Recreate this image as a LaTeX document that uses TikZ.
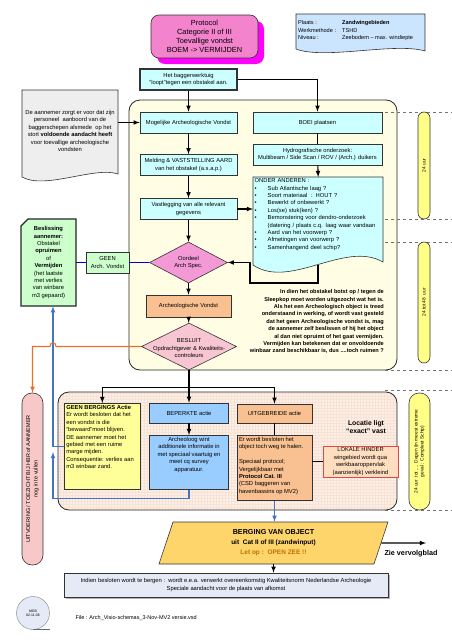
\documentclass[tikz,border=0pt]{standalone}
\usepackage{fontspec}
\setmainfont{Liberation Sans}
\usetikzlibrary{shapes.geometric,shadows}

\definecolor{cyanf}{HTML}{CCFFFF}
\definecolor{creamf}{HTML}{FFFDE3}
\definecolor{peachf}{HTML}{FDEFE6}
\definecolor{gridc}{HTML}{F7E2D6}
\definecolor{pinkf}{HTML}{F283CC}
\definecolor{magf}{HTML}{FF00FF}
\definecolor{pinkd}{HTML}{F39AD6}
\definecolor{pinkl}{HTML}{F8C6D2}
\definecolor{orf}{HTML}{F9C191}
\definecolor{bluef}{HTML}{99CCFF}
\definecolor{yellf}{HTML}{FFFF99}
\definecolor{yellp}{HTML}{FFFF88}
\definecolor{lokf}{HTML}{FFDEC0}
\definecolor{lokd}{HTML}{E04848}
\definecolor{greenf}{HTML}{CCFFCC}
\definecolor{bergf}{HTML}{FDD56B}
\definecolor{pinkp}{HTML}{F8C8C8}
\definecolor{lavf}{HTML}{E4EAF6}
\definecolor{infof}{HTML}{CCE5FF}
\definecolor{grayf}{HTML}{EEEEEE}
\definecolor{bluel}{HTML}{0000CC}
\definecolor{bluem}{HTML}{4472C4}
\definecolor{orl}{HTML}{E8702A}
\definecolor{letop}{HTML}{C07000}

\newcommand{\fa}{\fontsize{5.8}{7.4}\selectfont}
\newcommand{\fb}{\fontsize{7.4}{9}\selectfont}
\newcommand{\fc}{\fontsize{5.5}{7.4}\selectfont}
\newcommand{\fd}{\fontsize{4.8}{6}\selectfont}
\newcommand{\bul}{\makebox[13pt][l]{\textbullet}}

\begin{document}
\begin{tikzpicture}[x=1pt,y=-1pt,font=\fa,
	box/.style={draw=black!80,line width=.6pt,align=center,inner sep=1pt},
	cbox/.style={box,fill=cyanf,minimum width=97pt,minimum height=21pt},
	diam/.style={box,diamond,inner sep=0pt},
	arr/.style={->,>=latex,line width=1.1pt},
	ln/.style={line width=1.1pt},
	bluedk/.style={line width=1.1pt,color=bluel},
	bluearr/.style={->,>=latex,line width=1.1pt,color=bluem},
	orarr/.style={->,>=latex,line width=1.1pt,color=orl},
	ypill/.style={box,fill=yellp,rotate=90,font=\fd},
	region/.style={draw=black!85,line width=.8pt,rounded corners=11pt}]
	\useasboundingbox (0,0) rectangle (452,640);

	\draw[region,fill=creamf] (129,100) rectangle (397,370);
	\begin{scope}
		\clip[rounded corners=11pt] (58,392) rectangle (397,510);
		\fill[peachf] (58,392) rectangle (397,510);
		\draw[gridc,line width=.2pt,step=3pt] (58,392) grid (397,510);
	\end{scope}
	\draw[region] (58,392) rectangle (397,510);
	\foreach \yy in {112,219,242,370,390,510}
		\draw[dashed,black!55,line width=.5pt] (385,\yy) -- (452,\yy);

	\node[ypill,rounded corners=6pt,minimum width=107pt,minimum height=12pt] (p24) at (424,165.5) {24 uur};
	\node[ypill,rounded corners=6pt,minimum width=121pt,minimum height=12pt] (p48) at (424,302.5) {24 tot 48\ \ uur};
	\node[ypill,rounded corners=10pt,minimum width=117pt,minimum height=21pt] (pdag) at (419.5,451.5) {24 uur\ \ tot .... Dagen (in meest extreme\\geval : Compleet Schip)};

	\node[box,fill=pinkf,rounded corners=8pt,minimum width=107pt,minimum height=43pt,font=\fb,
		drop shadow={shadow xshift=6pt,shadow yshift=-6pt,fill=magf,opacity=1}] (protocol) at (204.5,36.5)
		{Protocol\\Categorie II of III\\Toevallige vondst\\BOEM -> VERMIJDEN};

	\draw[box,fill=infof] (296,14) -- (425,14) -- (425,51) .. controls (395,42) and (325,60) .. (296,49) -- cycle;
	\node[anchor=north west,inner sep=0pt,font=\fontsize{5.6}{7.4}\selectfont] (info) at (298,19.5)
		{\begin{tabular}{@{}p{44pt}@{}l@{}}Plaats : & \textbf{Zandwingebieden}\\Werkmethode : & TSHD\\Niveau : & Zeebodem – max. windiepte\end{tabular}};

	\draw[box,fill=grayf] (22,90) -- (118,90) -- (118,174) .. controls (95,166) and (45,190) .. (22,177) -- cycle;
	\node[align=center,minimum width=96pt] (aann) at (70,131) {De aannemer zorgt er voor dat zijn\\personeel\ \ aanboord van de\\baggerschepen alsmede\ \ op het\\stort \textbf{voldoende aandacht heeft}\\voor toevallige archeologische\\vondsten};

	\node[cbox,line width=1.3pt] (bagger) at (188.5,79.5) {Het baggerwerktuig\\“loopt”tegen een obstakel aan.};
	\node[cbox] (mog) at (188.5,122.5) {Mogelijke Archeologische Vondst};
	\node[cbox] (meld) at (188.5,165) {Melding \& VASTSTELLING AARD\\van het obstakel (a.s.a.p.)};
	\node[cbox] (vast) at (188.5,209) {Vastlegging van alle relevant\\gegevens};
	\node[diam,fill=pinkd,minimum width=78pt,minimum height=41pt,label={[align=center]center:Oordeel\\Arch Spec.}] (oordeel) at (188.5,262.5) {};
	\node[box,fill=orf,minimum width=85pt,minimum height=22pt] (archv) at (188.5,306) {Archeologische Vondst};
	\node[diam,fill=pinkl,minimum width=95pt,minimum height=47pt,label={[align=center,yshift=-1.5pt]center:BESLUIT\\Opdrachtgever \& Kwaliteits-\\controleurs}] (besluit) at (189,346.5) {};

	\node[cbox,minimum width=129pt] (boei) at (317.5,122.5) {BOEI plaatsen};
	\node[cbox,minimum width=129pt] (hydro) at (317.5,154.5) {Hydrografische onderzoek:\\Multibeam / Side Scan / ROV / (Arch.) duikers};
	\draw[box,fill=cyanf] (253,177) -- (383,177) -- (383,262) .. controls (345,240) and (290,290) .. (253,265) -- cycle;
	\node[anchor=north west,align=left,text width=127pt,inner sep=1.5pt] (onder) at (253,177)
		{ONDER ANDEREN :\\\bul Sub Atlantische laag ?\\\bul Soort materiaal\ \ : HOUT ?\\\bul Bewerkt of onbewerkt ?\\\bul Los(se) stuk(ken) ?\\\bul Bemonstering voor dendro-onderzoek\\\hspace*{13pt}(datering / plaats c.q. laag waar vandaan\\\bul Aard van het voorwerp ?\\\bul Afmetingen van voorwerp ?\\\bul Samenhangend deel schip?};
	\coordinate (onderbot) at (318,264.6);

	\node[anchor=north east,align=right,inner sep=0pt,font={\bfseries\fontsize{5.6}{7.4}\selectfont}] (uitleg) at (384,289.5)
		{In dien het obstakel botst op / tegen de\\Sleepkop moet worden uitgezocht wat het is.\\Als het een Archeologisch object is treed\\onderstaand in werking, of wordt vast gesteld\\dat het geen Archeologische vondst is, mag\\de aannemer zelf beslissen of hij het object\\al dan niet opruimt of het gaat vermijden.\\Vermijden kan betekenen dat er onvoldoende\\winbaar zand beschikbaar is, dus ....toch ruimen ?};

	\draw[line width=1.3pt,draw=black!85,fill=greenf] (21,226) -- (28,219) -- (76,219) -- (76,306) -- (21,306) -- cycle;
	\node[align=center,minimum width=55pt,minimum height=87pt] (besl) at (48.5,262.5) {\textbf{Beslissing}\\\textbf{aannemer:}\\Obstakel\\\textbf{opruimen}\\of\\\textbf{Vermijden}\\(het laatste\\met verlies\\van winbare\\m3 gepaard)};
	\node[box,fill=greenf,minimum width=43pt,minimum height=21pt] (geen) at (107.5,262.5) {GEEN\\Arch. Vondst};

	\foreach \a/\b in {bagger/mog,mog/meld,meld/vast,vast/oordeel,oordeel/archv,archv/besluit}
		\draw[arr] (\a) -- (\b);
	\draw[arr] (bagger.east) -| (boei.north);
	\draw[ln] (boei) -- (hydro);
	\draw[arr] (hydro) -- (onder.north);
	\draw[arr] (aann.east |- mog.west) -- (mog.west);
	\draw[arr] (vast.east) -- (vast.east -| onder.west);
	\draw[arr] (onderbot) |- (250,283) |- (oordeel.east);
	\draw[bluedk] (oordeel.west) -- (geen.east);
	\draw[bluedk] (geen.west) -- (besl.east);

	\node[box,fill=yellf,anchor=north west,inner sep=2pt] (gba) at (64,403)
		{\parbox[t][82pt][t]{72pt}{\raggedright\textbf{GEEN BERGINGS Actie}\\Er wordt besloten dat het\\een vondst is die\\“bewaard”moet blijven.\\DE aannemer moet het\\gebied met een ruime\\marge mijden.\\Consequentie: verlies aan\\m3 winbaar zand.}};
	\node[box,fill=bluef,minimum width=79pt,minimum height=20pt] (bep) at (189,413) {BEPERKTE actie};
	\node[box,fill=bluef,anchor=north,inner sep=2pt] (arch) at (189,435)
		{\parbox[t][50pt][t]{75pt}{\centering Archeoloog wint\\additionele informatie in\\met speciaal vaartuig en\\meet cq survey\\apparatuur.}};
	\node[box,fill=orf,minimum width=75pt,minimum height=19pt] (uitg) at (274.5,413.5) {UITGEBREIDE actie};
	\node[box,fill=orf,anchor=north,inner sep=2pt] (det) at (274.5,435)
		{\parbox[t][61pt][t]{71pt}{\raggedright Er wordt besloten het\\object toch weg te halen.\\[7.4pt]Speciaal protocol;\\Vergelijkbaar met\\\textbf{Protocol Cat. III}\\(CSD baggeren van\\havenbassins op MV2)}};
	\node[box,fill=lokf,draw=lokd,minimum width=75pt,minimum height=31pt] (lok) at (360.5,461.5) {LOKALE HINDER\\wingebied wordt qua\\werkbaaroppervlak\\(aanzienlijk) verkleind};
	\node[align=center,font={\bfseries\fontsize{6.8}{8}\selectfont}] (locatie) at (366,427) {Locatie ligt\\“exact” vast};

	\node[box,fill=pinkp,rotate=90,rounded corners=10pt,minimum width=172pt,minimum height=21pt,font=\fc] (pill) at (32.5,479)
		{UITVOERING / TOEZICHT BIJ HBR of AANNEMER\\nog in te vullen};

	\draw[ln] (besluit.south) -- ++(0,17) coordinate (split);
	\draw[arr] (split) -| (gba.north);
	\draw[arr] (split) -- (bep.north);
	\draw[arr] (split) -| (uitg.north);
	\draw[arr] (bep) -- (arch);
	\draw[ln] (uitg) -- (det);
	\draw[ln] (det.east |- lok.west) -- (lok.west);
	\coordinate (merge) at (53,452);
	\draw[bluearr] (gba.west) -| ([xshift=4.5pt]besl.south);
	\draw[bluearr] (arch.south) -- ++(0,9) -| (merge);
	\draw[orarr] (besluit.west) -- (56,346.5) .. controls (56,341.5) and (50,341.5) .. (50,346.5) -| (pill.east);

	\node[trapezium,trapezium left angle=67,trapezium right angle=113,trapezium stretches body,draw=black!80,line width=.6pt,fill=bergf,
		minimum width=229pt,minimum height=42pt,align=center,font={\bfseries\fontsize{6.5}{10}\selectfont}] (berging) at (273.5,543)
		{{\fontsize{7.2}{10}\selectfont BERGING VAN OBJECT}\\uit\ \ Cat II of III (zandwinput)\\\textcolor{letop}{Let op :\ \ OPEN ZEE !!}};
	\draw[bluearr] (det.south) -- (det.south |- berging.north);
	\coordinate (zie) at (426,543);
	\draw[arr] (berging.east) -- (zie);
	\node[font={\bfseries\fontsize{7.2}{9}\selectfont}] (ziet) at (411,554) {Zie vervolgblad};

	\node[box,fill=lavf,minimum width=324pt,minimum height=24pt,drop shadow={shadow xshift=1.5pt,shadow yshift=-1.5pt,opacity=.6}] (bergen) at (226,585)
		{Indien besloten wordt te bergen :\ \ wordt e.e.a. verwerkt overeenkomstig Kwaliteitsnorm Nederlandse Archeologie\\Speciale aandacht voor de plaats van afkomst};
	\draw[arr] (berging.south) -- (berging.south |- bergen.north);

	\node[circle,draw=black!50,fill=lavf,minimum size=33pt,inner sep=0pt,align=center,font=\fontsize{3.5}{4.3}\selectfont] (mgb) at (33,613) {MGB\\02-11-06};
	\draw[black!60,line width=.6pt] (mgb.south) -- ++(17,0);
	\node[anchor=west,font=\fontsize{5.5}{7}\selectfont] (file) at (72,618) {File : Arch\_Visio-schemas\_3-Nov-MV2 versie.vsd};
\end{tikzpicture}
\end{document}
